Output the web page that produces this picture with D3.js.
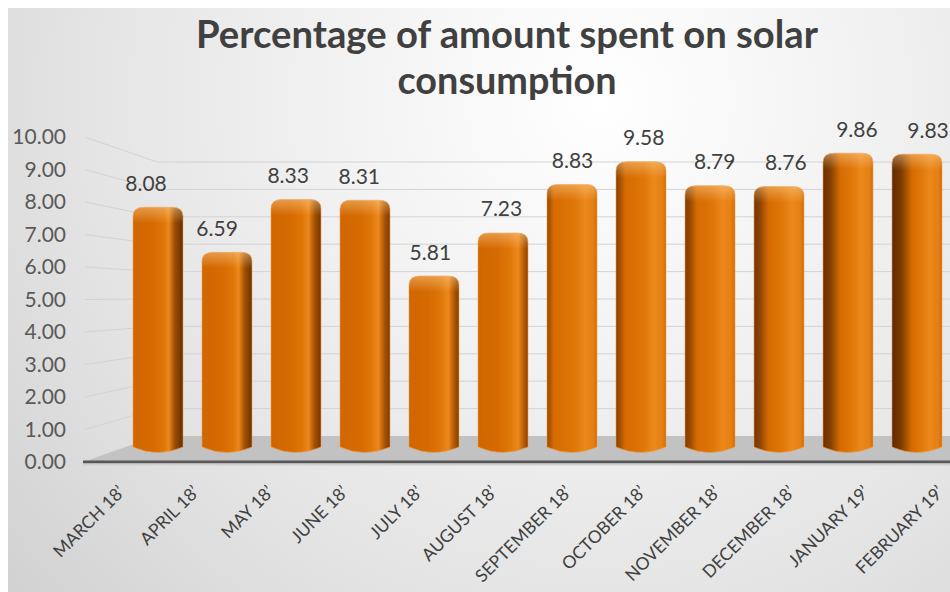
<!DOCTYPE html>
<html>
<head>
<meta charset="utf-8">
<script src="https://cdn.jsdelivr.net/npm/d3@7/dist/d3.min.js"></script>
<style>
  html, body { margin: 0; padding: 0; background: #ffffff; }
  svg { display: block; }
</style>
</head>
<body>
<svg id="chart" width="950" height="592"></svg>
<script>
// Monthly share of spending on solar consumption (%)
const categories = ["MARCH 18’", "APRIL 18’", "MAY 18’", "JUNE 18’", "JULY 18’", "AUGUST 18’",
  "SEPTEMBER 18’", "OCTOBER 18’", "NOVEMBER 18’", "DECEMBER 18’", "JANUARY 19’", "FEBRUARY 19’"];
const values = [8.08, 6.59, 8.33, 8.31, 5.81, 7.23, 8.83, 9.58, 8.79, 8.76, 9.86, 9.83];
const yTicks = [0, 1, 2, 3, 4, 5, 6, 7, 8, 9, 10];
const titleLines = ["Percentage of amount spent on solar", "consumption"];

const W = 950, H = 592;
const svg = d3.select("#chart");
const defs = svg.append("defs");

// ---- background panel ----
const bg = defs.append("radialGradient").attr("id", "bgGrad")
  .attr("gradientUnits", "userSpaceOnUse").attr("cx", 600).attr("cy", 100).attr("r", 760);
[[0, "#ffffff"], [0.35, "#f2f2f2"], [0.7, "#e3e3e3"], [1, "#d2d2d2"]]
  .forEach(([o, c]) => bg.append("stop").attr("offset", o).attr("stop-color", c));
svg.append("rect").attr("x", 8).attr("y", 8).attr("width", W - 8).attr("height", H - 8)
  .attr("fill", "url(#bgGrad)");

// ---- 3D box scales: front edge, back wall, and the depth plane of the columns ----
const yFront = d3.scaleLinear().domain([0, 10]).range([462, 137]);
const yBack = d3.scaleLinear().domain([0, 10]).range([436, 162]);
const yBar = d3.scaleLinear().domain([0, 10]).range([452, 149]);
const frontLeft = 85, backLeft = 157, rightEdge = W;

const xBar = d3.scaleBand().domain(categories).range([123.5, 951.5])
  .paddingInner(0.275).paddingOuter(0.1375);
const xValue = d3.scalePoint().domain(categories).range([146, 928]);
const xCat = d3.scalePoint().domain(categories).range([126, 945]);

// ---- walls: gridlines on side wall and back wall ----
const grid = svg.append("g").attr("stroke", "#d3d3d3").attr("stroke-width", 1).attr("fill", "none");
grid.selectAll("path").data(yTicks.filter(v => v > 0)).join("path")
  .attr("d", v => `M${frontLeft},${yFront(v)} L${backLeft},${yBack(v)} L${rightEdge},${yBack(v)}`);

// ---- floor ----
svg.append("path")
  .attr("d", `M${frontLeft - 2},${yFront(0)} L${backLeft},${yBack(0)} L${rightEdge},${yBack(0)} L${rightEdge},${yFront(0)} Z`)
  .attr("fill", "#c2c2c2");
svg.append("line")
  .attr("x1", frontLeft - 2).attr("x2", rightEdge).attr("y1", yFront(0)).attr("y2", yFront(0))
  .attr("stroke", "#575757").attr("stroke-width", 3);
svg.append("line")
  .attr("x1", frontLeft - 2).attr("x2", rightEdge).attr("y1", yFront(0) + 2.5).attr("y2", yFront(0) + 2.5)
  .attr("stroke", "#cfcfcf").attr("stroke-width", 2);

// ---- column shading: the dark side turns with the columns' position ----
const darkBrown = "#552600", baseOrange = "#d66b02", midOrange = "#de7608", lightOrange = "#ec881c";
const toDark = d3.interpolateRgb(baseOrange, darkBrown);
function shadeStops(cx) {
  const d = (cx - 530) / 390;
  if (d > 0) {
    const w = 0.1 + 0.3 * d;
    return [[0, toDark(0.45 + 0.5 * d)], [w * 0.45, toDark(0.25 + 0.45 * d)], [w, baseOrange],
            [0.55, midOrange], [0.76, lightOrange], [0.93, "#e47f12"], [1, "#d06a06"]];
  }
  const a = -d;
  const w = 0.07 + 0.1 * a;
  return [[0, "#cf6600"], [0.4, baseOrange], [0.62, midOrange], [1 - w - 0.12, lightOrange],
          [1 - w, toDark(0.25 + 0.2 * a)], [1, toDark(0.55 + 0.35 * a)]];
}
const grads = defs.selectAll("linearGradient.bar").data(categories).join("linearGradient")
  .attr("class", "bar").attr("id", (d, i) => "barGrad" + i)
  .attr("x1", 0).attr("x2", 1).attr("y1", 0).attr("y2", 0);
grads.selectAll("stop").data(d => shadeStops(xBar(d) + xBar.bandwidth() / 2)).join("stop")
  .attr("offset", s => s[0]).attr("stop-color", s => s[1]);

const capGrad = defs.append("linearGradient").attr("id", "capGrad")
  .attr("x1", 0).attr("x2", 0).attr("y1", 0).attr("y2", 1);
capGrad.append("stop").attr("offset", 0).attr("stop-color", "#ffd7a0").attr("stop-opacity", 0.45);
capGrad.append("stop").attr("offset", 1).attr("stop-color", "#ffd7a0").attr("stop-opacity", 0);

// ---- columns (rounded cylinders) ----
const baseY = yBar(0);
function columnPath(x0, x1, yTop) {
  const rx = 11, ry = 9, cx = (x0 + x1) / 2, foot = baseY - 5;
  return `M${x0},${foot} L${x0},${yTop + ry} Q${x0},${yTop} ${x0 + rx},${yTop} ` +
         `L${x1 - rx},${yTop} Q${x1},${yTop} ${x1},${yTop + ry} L${x1},${foot} ` +
         `Q${cx},${baseY + 6} ${x0},${foot} Z`;
}
function capPath(x0, x1, yTop) {
  const rx = 11, ry = 9;
  return `M${x0},${yTop + 16} L${x0},${yTop + ry} Q${x0},${yTop} ${x0 + rx},${yTop} ` +
         `L${x1 - rx},${yTop} Q${x1},${yTop} ${x1},${yTop + ry} L${x1},${yTop + 16} Z`;
}
const cols = svg.append("g").selectAll("g").data(values).join("g");
cols.append("path")
  .attr("d", (v, i) => columnPath(xBar(categories[i]), xBar(categories[i]) + xBar.bandwidth(), yBar(v)))
  .attr("fill", (v, i) => `url(#barGrad${i})`)
  .attr("stroke", "#f0a45c").attr("stroke-width", 1).attr("stroke-opacity", 0.55);
cols.append("path")
  .attr("d", (v, i) => capPath(xBar(categories[i]), xBar(categories[i]) + xBar.bandwidth(), yBar(v)))
  .attr("fill", "url(#capGrad)");

// ---- value labels ----
svg.append("g").selectAll("text").data(values).join("text")
  .attr("x", (v, i) => xValue(categories[i]))
  .attr("y", v => yBar(v) - 24)
  .attr("dy", "0.36em")
  .attr("text-anchor", "middle")
  .attr("font-family", "Lato, 'Open Sans', sans-serif")
  .attr("font-size", 21)
  .attr("fill", "#404040")
  .text(v => v.toFixed(2));

// ---- value axis on the front edge ----
const yAxis = d3.axisLeft(yFront).tickValues(yTicks).tickFormat(d3.format(".2f"))
  .tickSize(0).tickPadding(0);
const ya = svg.append("g").attr("transform", "translate(66,0)").call(yAxis);
ya.select(".domain").remove();
ya.selectAll("text")
  .attr("font-family", "Lato, 'Open Sans', sans-serif")
  .attr("font-size", 21)
  .attr("fill", "#595959");

// ---- category labels, slanted ----
svg.append("g").selectAll("text").data(categories).join("text")
  .attr("transform", d => `translate(${xCat(d)},493) rotate(-45)`)
  .attr("text-anchor", "end")
  .attr("font-family", "Lato, 'Open Sans', sans-serif")
  .attr("font-size", 17.5)
  .attr("fill", "#404040")
  .text(d => d);

// ---- title ----
const titleWidths = [622, 219];
svg.append("g").selectAll("text").data(titleLines).join("text")
  .attr("x", 507)
  .attr("y", (d, i) => 48 + i * 46)
  .attr("text-anchor", "middle")
  .attr("font-family", "Lato, 'Open Sans', sans-serif")
  .attr("font-weight", 700)
  .attr("font-size", 39)
  .attr("fill", "#404040")
  .attr("textLength", (d, i) => titleWidths[i])
  .attr("lengthAdjust", "spacingAndGlyphs")
  .text(d => d);
</script>
</body>
</html>
